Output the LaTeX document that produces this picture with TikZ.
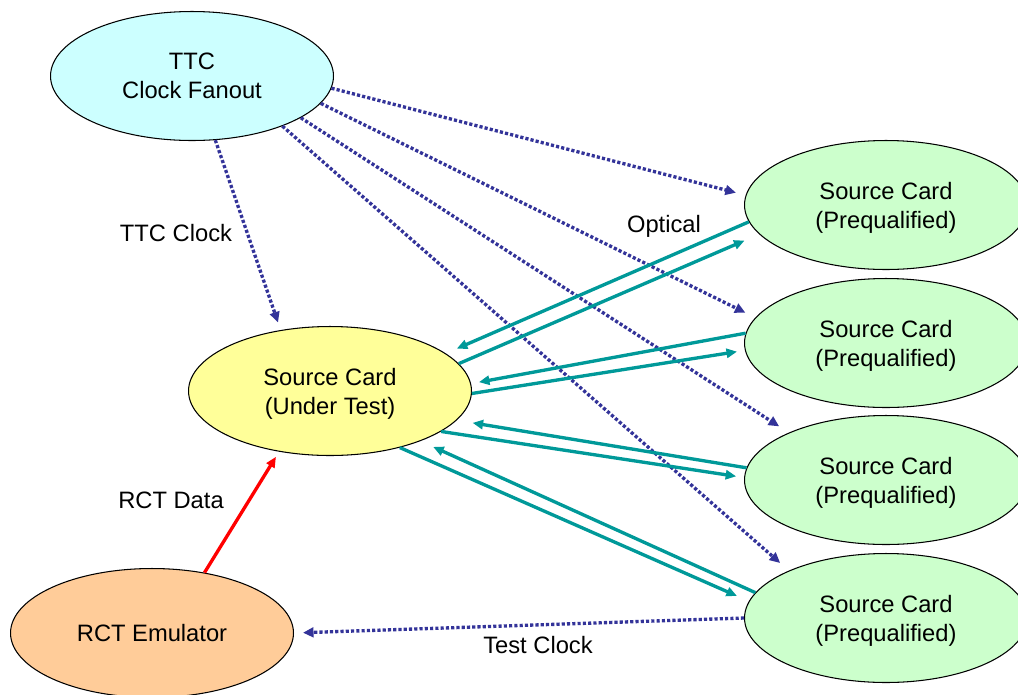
\documentclass[tikz,border=0pt]{standalone}
\usepackage{fontspec}
\setmainfont{Liberation Sans}
\usetikzlibrary{arrows.meta,shapes.geometric}
\definecolor{clkblue}{RGB}{51,51,153}
\definecolor{optteal}{RGB}{0,153,153}
\definecolor{ttcfill}{RGB}{204,255,255}
\definecolor{utfill}{RGB}{255,255,153}
\definecolor{pqfill}{RGB}{204,255,204}
\definecolor{rctfill}{RGB}{255,204,153}
\newcommand{\tstrut}{\rule{0pt}{12.5pt}}
\tikzset{
  card/.style={ellipse,draw=black,line width=0.6pt,minimum width=5.66cm,minimum height=2.58cm,inner sep=0pt,align=center,font=\fontsize{13.5}{16.5}\selectfont},
  lbl/.style={font=\fontsize{13.5}{16.5}\selectfont,inner sep=0pt},
  clk/.style={draw=clkblue,line width=1.9pt,dash pattern=on 1.8pt off 1.2pt,-{Triangle[length=6pt,width=5.5pt]}},
  opt/.style={draw=optteal,line width=1.9pt,-{Triangle[length=6pt,width=5.2pt]}},
  rct/.style={draw=red,line width=1.9pt,-{Triangle[length=6pt,width=5.2pt]}}
}
\begin{document}
\begin{tikzpicture}[x=0.02cm,y=-0.02cm]
\useasboundingbox (0,0) rectangle (1018,694);
\clip (0,0) rectangle (1018,694);
\node[card,fill=ttcfill] (ttc) at (192,76) {TTC\\Clock Fanout};
\node[card,fill=utfill] (ut) at (330,391) {\tstrut Source Card\\(Under Test)};
\node[card,fill=pqfill] (p1) at (886,205) {\tstrut Source Card\\(Prequalified)};
\node[card,fill=pqfill] (p2) at (886,343) {\tstrut Source Card\\(Prequalified)};
\node[card,fill=pqfill] (p3) at (886,480) {\tstrut Source Card\\(Prequalified)};
\node[card,fill=pqfill] (p4) at (886,618) {\tstrut Source Card\\(Prequalified)};
\node[card,fill=rctfill] (rct) at (152,633) {RCT Emulator};

\node[lbl] (l1) at (176,233) {TTC Clock};
\node[lbl] (l2) at (664,226) {Optical};
\node[lbl] (l3) at (171,500) {RCT Data};
\node[lbl] (l4) at (538,645) {Test Clock};

% clock lines
\draw[clk,shorten >=0.2cm] (ttc.-5) -- (p1.176.6);
\draw[clk,shorten >=0.22cm] (ttc.-12.2) -- (p2.169.6);
\draw[clk,shorten >=0.23cm] (ttc.-21.8) -- (p3.154.9);
\draw[clk,shorten >=0.23cm] (ttc.-29.7) -- (p4.154.9);
\draw[clk,shorten >=0.16cm] (ttc.-70.2) -- (ut.129.8);
\draw[clk,shorten >=0.18cm] (p4.180) -- (rct.0);

% RCT data
\draw[rct,shorten >=0.12cm] (rct.49.1) -- (ut.230.8);

% optical links
\draw[opt,shorten >=0.24cm] (p1.187.7) -- (ut.18.6);
\draw[opt,shorten >=0.32cm] (ut.12.9) -- (p1.193.2);
\draw[opt,shorten >=0.16cm] (p2.176.8) -- (ut.3.8);
\draw[opt,shorten >=0.16cm] (ut.-1.6) -- (p2.183.1);
\draw[opt,shorten >=0.32cm] (p3.175.5) -- (ut.-13.1);
\draw[opt,shorten >=0.16cm] (ut.-20.4) -- (p3.179.6);
\draw[opt,shorten >=0.28cm] (p4.169.2) -- (ut.-29.2);
\draw[opt,shorten >=0.26cm] (ut.-39.5) -- (p4.173.1);
\end{tikzpicture}
\end{document}
